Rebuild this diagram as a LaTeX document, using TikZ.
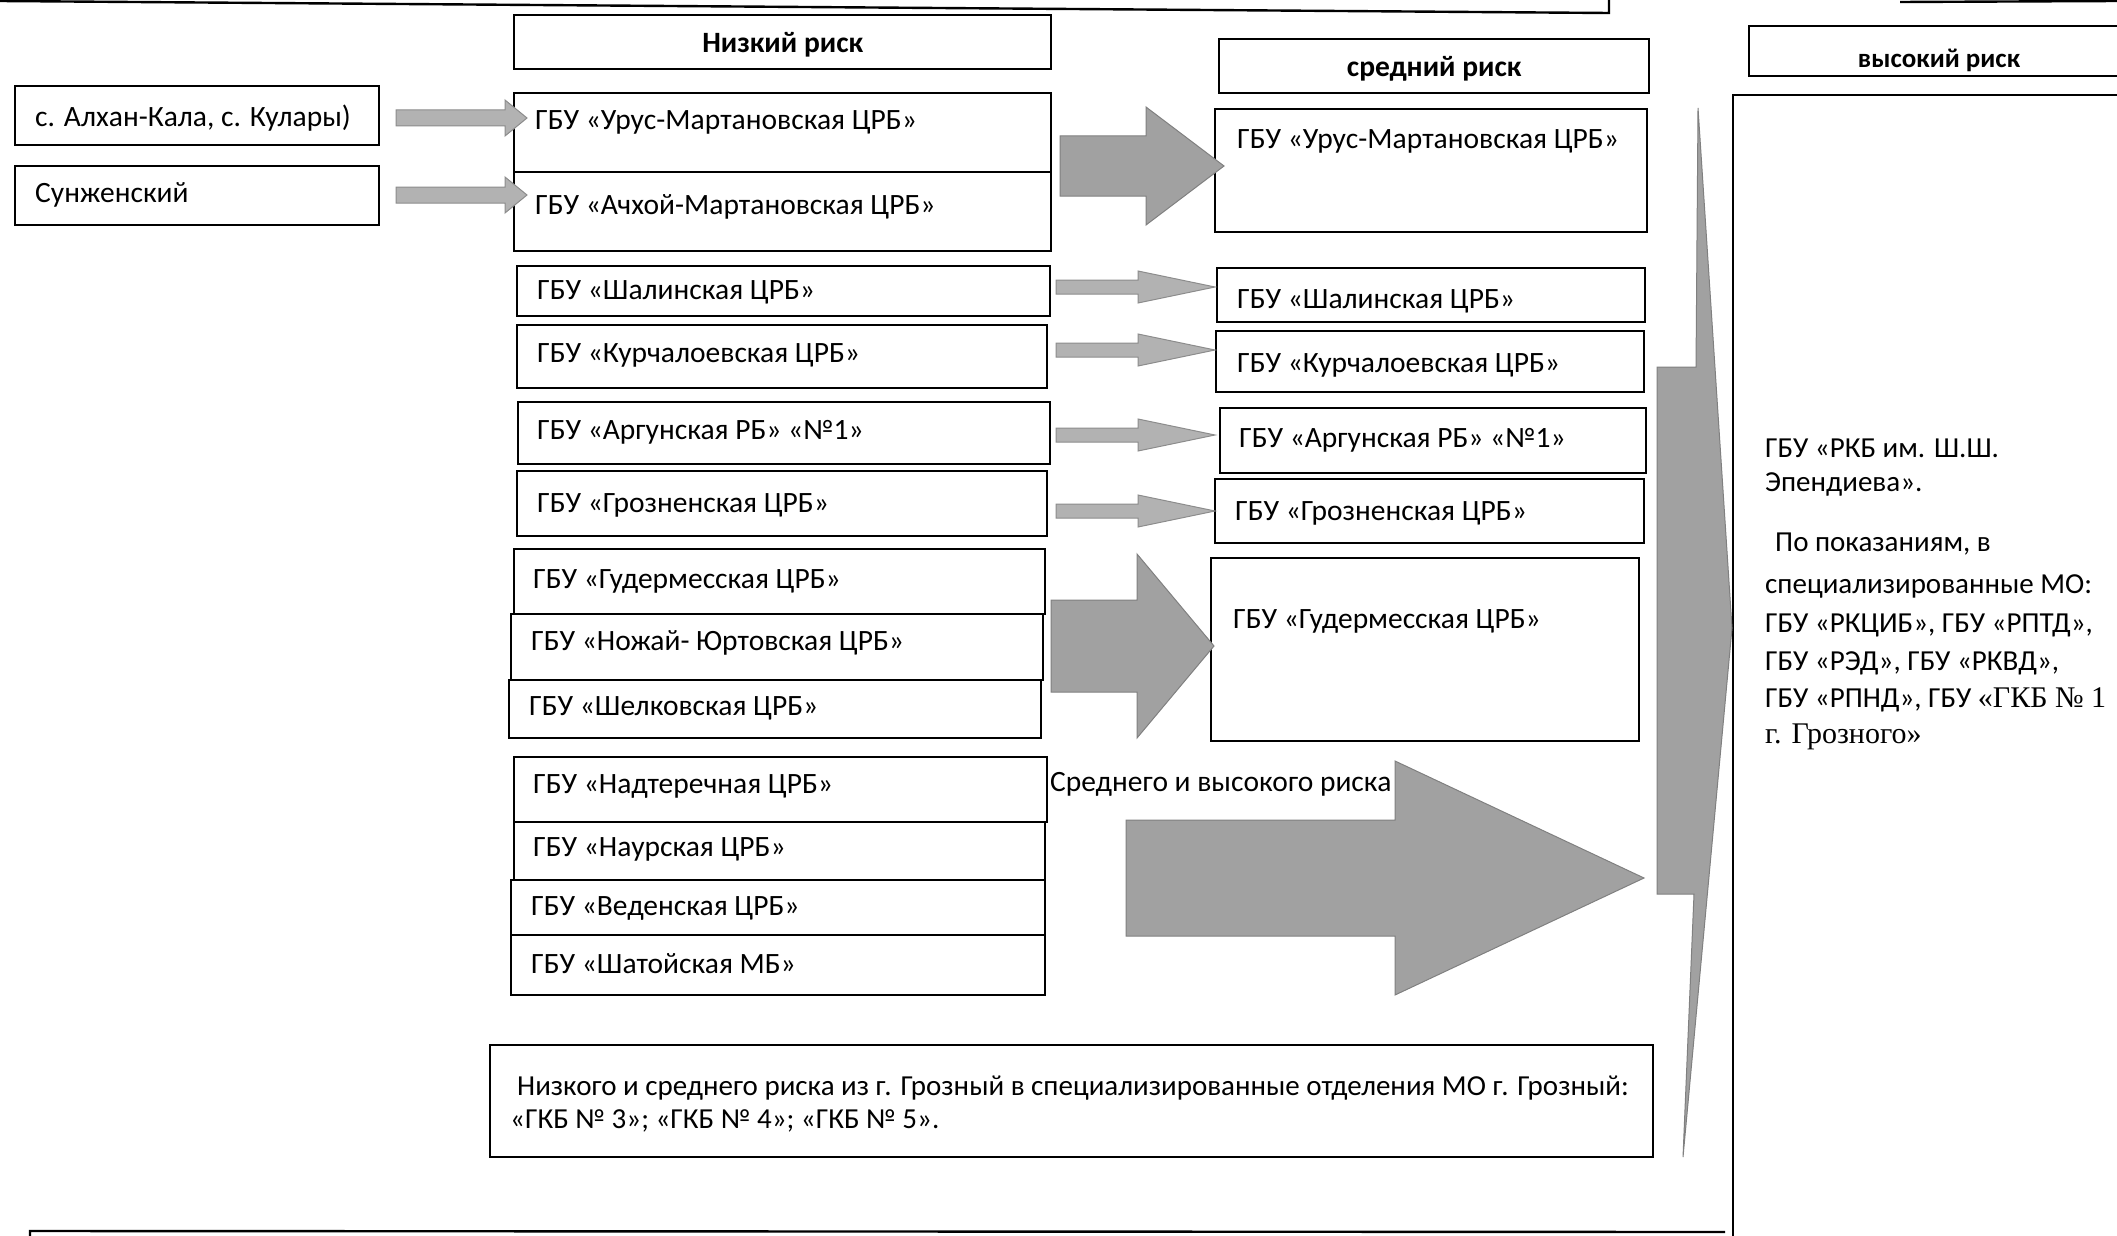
\documentclass[tikz,border=0pt]{standalone}
\usepackage{fontspec}
\setmainfont{Carlito}
\newfontfamily\tnr{Liberation Serif}
\newcommand\bx[5]{\node[box, minimum width=#4pt, minimum height=#5pt] (#1) at (#2,#3) {};}
\newcommand\tx[4]{\node[txt] (#1) at (#2,#3) {#4};}
\newcommand\ty[4]{\node[txt, font=\fontsize{29}{34}\selectfont] (#1) at (#2,#3) {#4};}
\newcommand\barrow[7]{\path[#7] (#1,{#4-#5}) -- (#2,{#4-#5}) -- (#2,{#4-#6}) -- (#3,#4) -- (#2,{#4+#6}) -- (#2,{#4+#5}) -- (#1,{#4+#5}) -- cycle;}
\begin{document}
\begin{tikzpicture}[x=1pt,y=-1pt,
  box/.style={draw=black, line width=2.4pt, inner sep=0pt, anchor=north west},
  txt/.style={anchor=west, inner sep=0pt, yshift=-3pt, font=\fontsize{29.5}{34}\selectfont},
  hdr/.style={inner sep=0pt, yshift=-3pt, font=\fontsize{29.5}{34}\selectfont\bfseries},
  blk/.style={fill=black!37, draw=black!50, line width=1pt},
  blklight/.style={fill=black!30, draw=black!45, line width=1pt},
]
\useasboundingbox (0,0) rectangle (2117,1236);
% cut-off frame lines
\draw[line width=2.4pt] (0,1) -- (1609,13) -- (1609,0);
\draw[line width=2.4pt] (1900,2) -- (2117,1);
\draw[line width=2.4pt] (30,1236) -- (30,1231) -- (1725,1232);

% left boxes
\bx{alkhan}{14}{85}{364}{59}
\bx{sunzh}{14}{165}{364}{59}
\tx{talkhan}{35}{115}{с. Алхан-Кала, с. Кулары)}
\tx{tsunzh}{35}{192}{Сунженский}

% low risk column
\bx{lowhdr}{513}{14}{537}{54}
\node[hdr] (tlowhdr) at (lowhdr.center) {Низкий риск};
\bx{urusL}{513}{92}{537}{79}
\bx{achL}{513}{171}{537}{79}
\bx{shalL}{516}{265}{533}{50}
\bx{kurL}{516}{324}{530}{63}
\bx{argL}{517}{401}{532}{62}
\bx{grozL}{516}{470}{530}{65}
\bx{gudL}{513}{548}{531}{65}
\bx{nozhL}{510}{613}{532}{66}
\bx{shelL}{508}{679}{532}{58}
\bx{nadL}{513}{756}{533}{65}
\bx{naurL}{513}{821}{531}{58}
\bx{vedL}{510}{879}{534}{55}
\bx{shatL}{510}{934}{534}{60}
\tx{turusL}{535}{119}{ГБУ «Урус-Мартановская ЦРБ»}
\tx{tachL}{535}{204}{ГБУ «Ачхой-Мартановская ЦРБ»}
\tx{tshalL}{537}{289}{ГБУ «Шалинская ЦРБ»}
\tx{tkurL}{537}{352}{ГБУ «Курчалоевская ЦРБ»}
\tx{targL}{537}{429}{ГБУ «Аргунская РБ» «№1»}
\tx{tgrozL}{537}{502}{ГБУ «Грозненская ЦРБ»}
\tx{tgudL}{533}{578}{ГБУ «Гудермесская ЦРБ»}
\tx{tnozhL}{531}{640}{ГБУ «Ножай- Юртовская ЦРБ»}
\tx{tshelL}{529}{705}{ГБУ «Шелковская ЦРБ»}
\tx{tnadL}{533}{783}{ГБУ «Надтеречная ЦРБ»}
\tx{tnaurL}{533}{846}{ГБУ «Наурская ЦРБ»}
\tx{tvedL}{531}{905}{ГБУ «Веденская ЦРБ»}
\tx{tshatL}{531}{961}{ГБУ «Шатойская МБ»}

% medium risk column
\bx{midhdr}{1218}{38}{430}{54}
\node[hdr] (tmidhdr) at (midhdr.center) {средний риск};
\bx{urusM}{1214}{108}{432}{123}
\bx{shalM}{1216}{267}{428}{54}
\bx{kurM}{1215}{330}{428}{61}
\bx{argM}{1219}{407}{426}{65}
\bx{grozM}{1214}{478}{429}{64}
\bx{gudM}{1210}{557}{428}{183}
\tx{turusM}{1237}{138}{ГБУ «Урус-Мартановская ЦРБ»}
\tx{tshalM}{1237}{298}{ГБУ «Шалинская ЦРБ»}
\tx{tkurM}{1237}{362}{ГБУ «Курчалоевская ЦРБ»}
\tx{targM}{1239}{437}{ГБУ «Аргунская РБ» «№1»}
\tx{tgrozM}{1235}{510}{ГБУ «Грозненская ЦРБ»}
\tx{tgudM}{1233}{618}{ГБУ «Гудермесская ЦРБ»}

% high risk column
\bx{highhdr}{1748}{25}{420}{50}
\node[hdr, font=\fontsize{27}{32}\selectfont\bfseries] (thighhdr) at (1939,57) {высокий риск};
\bx{highbox}{1732}{94}{420}{1160}
\ty{th1}{1765}{445}{ГБУ «РКБ им. Ш.Ш.}
\ty{th2}{1765}{481}{Эпендиева».}
\ty{th3}{1775}{541}{По показаниям, в}
\ty{th4}{1765}{583}{специализированные МО:}
\ty{th5}{1765}{622}{ГБУ «РКЦИБ», ГБУ «РПТД»,}
\ty{th6}{1765}{660}{ГБУ «РЭД», ГБУ «РКВД»,}
\ty{th7}{1765}{697}{ГБУ «РПНД», ГБУ {\tnr\fontsize{30}{34}\selectfont «ГКБ № 1}}
\node[txt, font=\tnr\fontsize{30}{34}\selectfont] (th8) at (1765,734) {г. Грозного»};

% bottom box
\bx{grozny}{489}{1044}{1163}{112}
\ty{tg1}{517}{1085}{Низкого и среднего риска из г. Грозный в специализированные отделения МО г. Грозный:}
\ty{tg2}{510}{1118}{«ГКБ № 3»; «ГКБ № 4»; «ГКБ № 5».}

% block arrows
\barrow{396}{505}{527}{118}{8}{18}{blklight}
\barrow{396}{505}{527}{195}{8}{18}{blklight}
\barrow{1060}{1146}{1224}{166}{30}{59}{blk}
\barrow{1056}{1138}{1215}{287}{7}{16}{blklight}
\barrow{1056}{1138}{1215}{350}{7}{16}{blklight}
\barrow{1056}{1138}{1215}{435}{7}{16}{blklight}
\barrow{1056}{1138}{1215}{511}{7}{16}{blklight}
\barrow{1051}{1137}{1214}{646}{46}{92}{blk}
\barrow{1126}{1395}{1644}{878}{58}{117}{blk}
\node[txt] (tsv) at (1050,781) {Среднего и высокого риска};
% tall arrow to high risk
\path[blk] (1698,108) -- (1732,628) -- (1683,1157) -- (1694,894) -- (1657,894) -- (1657,367) -- (1696,367) -- cycle;
\end{tikzpicture}
\end{document}
